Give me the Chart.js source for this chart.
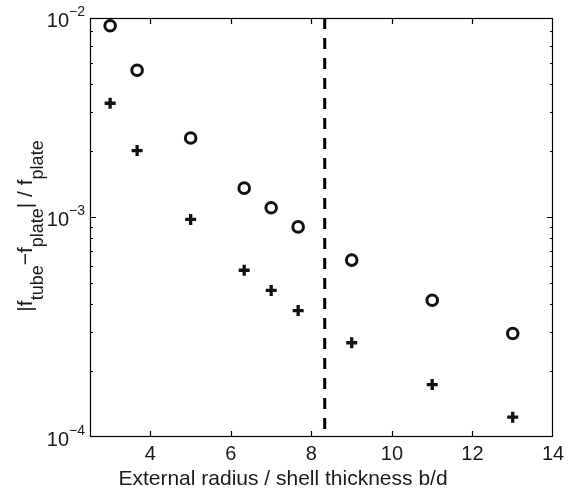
<!DOCTYPE html>
<html><head><meta charset="utf-8">
<script src="https://cdn.jsdelivr.net/npm/chart.js@4.4.0/dist/chart.umd.min.js"></script>
<style>html,body{margin:0;padding:0;background:#fff;}#wrap{width:574px;height:489px;}</style>
</head><body><div id="wrap"><canvas id="c" width="574" height="489"></canvas></div>
<script>
// ---- data ----
const ratioBD = [3, 3.67, 5, 6.33, 7, 7.67, 9, 11, 13];
const circleSeries = [7.38e-3, 4.63e-3, 2.28e-3, 1.35e-3, 1.10e-3, 9.0e-4, 6.36e-4, 4.18e-4, 2.95e-4];
const plusSeries = [3.28e-3, 2.0e-3, 9.73e-4, 5.72e-4, 4.63e-4, 3.75e-4, 2.68e-4, 1.73e-4, 1.23e-4];
const thresholdX = 8.33;
const xTickValues = [4, 6, 8, 10, 12, 14];
const yMajorTicks = [1e-4, 1e-3];
const yMinorTicks = [2e-4, 3e-4, 4e-4, 5e-4, 6e-4, 7e-4, 8e-4, 9e-4, 2e-3, 3e-3, 4e-3, 5e-3, 6e-3, 7e-3];
const yTickLabels = [{value: 1e-4, exp: '−4'}, {value: 1e-3, exp: '−3'}, {value: 8e-3, exp: '−2'}];
const xTitle = 'External radius / shell thickness b/d';
const yTitleParts = [['|f', 0], ['tube', 1], ['−f', 0], ['plate', 1], ['| / f', 0], ['plate', 1]];
const xRange = [2.5, 14];
const yRange = [1e-4, 8e-3];

const FONT = "'Liberation Sans', Arial, Helvetica, sans-serif";
const INK = '#1a1a1a';

const axesPlugin = {
  id: 'matlabAxes',
  afterDraw(chart) {
    const {ctx, chartArea: a, scales: {x, y}} = chart;
    ctx.save();
    ctx.strokeStyle = '#000';
    ctx.lineWidth = 1.2;
    ctx.strokeRect(a.left + 0.5, a.top + 0.5, a.right - a.left - 1, a.bottom - a.top - 1);
    ctx.beginPath();
    xTickValues.forEach(v => {
      const px = Math.round(x.getPixelForValue(v)) + 0.5;
      if (px <= a.left + 1 || px >= a.right - 1) return;
      ctx.moveTo(px, a.bottom); ctx.lineTo(px, a.bottom - 6);
      ctx.moveTo(px, a.top); ctx.lineTo(px, a.top + 6);
    });
    yMajorTicks.forEach(v => {
      const py = Math.round(y.getPixelForValue(v)) + 0.5;
      if (py >= a.bottom - 1 || py <= a.top + 1) return;
      ctx.moveTo(a.left, py); ctx.lineTo(a.left + 6, py);
      ctx.moveTo(a.right, py); ctx.lineTo(a.right - 6, py);
    });
    yMinorTicks.forEach(v => {
      const py = Math.round(y.getPixelForValue(v)) + 0.5;
      ctx.moveTo(a.left, py); ctx.lineTo(a.left + 3, py);
      ctx.moveTo(a.right, py); ctx.lineTo(a.right - 3, py);
    });
    ctx.stroke();

    ctx.fillStyle = INK;
    // x title (drawn here so its offset matches the reference)
    ctx.font = '21px ' + FONT;
    ctx.textAlign = 'center';
    ctx.textBaseline = 'alphabetic';
    ctx.fillText(xTitle, 283, 485);

    // y tick labels 10^n
    ctx.textAlign = 'right';
    yTickLabels.forEach(t => {
      const py = y.getPixelForValue(t.value);
      const right = a.left - 5;
      ctx.font = '14px ' + FONT;
      const ew = ctx.measureText(t.exp).width;
      ctx.fillText(t.exp, right, py - 2);
      ctx.font = '20px ' + FONT;
      ctx.fillText('10', right - ew, py + 9);
    });

    // y title with subscripts
    ctx.save();
    ctx.translate(32, 226);
    ctx.rotate(-Math.PI / 2);
    ctx.textAlign = 'left';
    const fontFor = sub => (sub ? '18px ' : '21px ') + FONT;
    let total = 0;
    yTitleParts.forEach(([s, sub]) => {
      ctx.font = fontFor(sub);
      total += ctx.measureText(s).width;
    });
    let cx = -total / 2;
    yTitleParts.forEach(([s, sub]) => {
      ctx.font = fontFor(sub);
      ctx.fillText(s, cx, sub ? 11 : 0);
      cx += ctx.measureText(s).width;
    });
    ctx.restore();
    ctx.restore();
  }
};

new Chart(document.getElementById('c'), {
  type: 'scatter',
  data: {
    datasets: [
      {
        type: 'line',
        data: [{x: thresholdX, y: yRange[1]}, {x: thresholdX, y: yRange[0]}],
        borderColor: '#000', borderWidth: 3, borderDash: [11, 9],
        pointRadius: 0, fill: false
      },
      {
        data: ratioBD.map((v, i) => ({x: v, y: circleSeries[i]})),
        pointStyle: 'circle', pointRadius: 5.3, pointBorderWidth: 3,
        borderColor: '#111', backgroundColor: 'rgba(0,0,0,0)', showLine: false
      },
      {
        data: ratioBD.map((v, i) => ({x: v, y: plusSeries[i]})),
        pointStyle: 'cross', pointRadius: 5.5, pointBorderWidth: 3.3,
        borderColor: '#111', backgroundColor: '#111', showLine: false
      }
    ]
  },
  options: {
    responsive: false,
    animation: false,
    layout: {padding: {top: 18, right: 21, left: 0, bottom: 0}},
    plugins: {legend: {display: false}, tooltip: {enabled: false}},
    scales: {
      x: {
        type: 'linear', min: xRange[0], max: xRange[1],
        afterBuildTicks: s => { s.ticks = xTickValues.map(v => ({value: v})); },
        ticks: {font: {family: FONT, size: 20}, color: INK, padding: 5, maxRotation: 0},
        grid: {display: false, drawTicks: false},
        border: {display: false},
        title: {display: false},
        afterFit: s => { s.height = 52; }
      },
      y: {
        type: 'logarithmic', min: yRange[0], max: yRange[1],
        ticks: {display: false},
        grid: {display: false, drawTicks: false},
        border: {display: false},
        afterFit: s => { s.width = 90; }
      }
    }
  },
  plugins: [axesPlugin]
});
</script></body></html>
